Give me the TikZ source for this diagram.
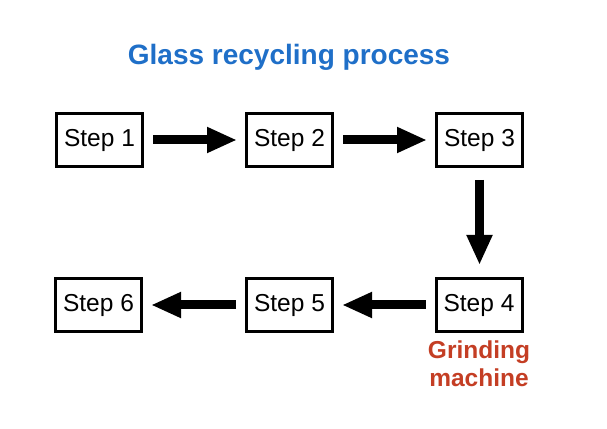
\documentclass[tikz,border=0pt]{standalone}
\usepackage{fontspec}
\setmainfont{Liberation Sans}
\usetikzlibrary{arrows.meta}
\definecolor{titleblue}{RGB}{31,111,200}
\definecolor{labelred}{RGB}{196,62,36}
\begin{document}
\begin{tikzpicture}[x=1pt,y=1pt,
  stepbox/.style={draw=black,line width=3pt,minimum width=86pt,minimum height=53pt,inner sep=0pt,font=\fontsize{24.5}{28}\selectfont},
  bigarrow/.style={line width=9pt,-{Triangle[length=30pt,width=24pt]},shorten <=9pt,shorten >=8pt}]
\useasboundingbox (0,0) rectangle (607,428);
\node[font=\bfseries\fontsize{28}{32}\selectfont,text=titleblue] (title) at (289,371) {Glass recycling process};
\node[stepbox] (s1) at (99.5,288) {Step 1};
\node[stepbox] (s2) at (289.5,288) {Step 2};
\node[stepbox] (s3) at (479.5,288) {Step 3};
\node[stepbox] (s4) at (479,123) {Step 4};
\node[stepbox] (s5) at (289.5,123) {Step 5};
\node[stepbox] (s6) at (98.5,123) {Step 6};
\node[font=\bfseries\fontsize{24.5}{28}\selectfont,text=labelred,align=center,anchor=north] (lab) at (479,91) {Grinding\\machine};
\draw[bigarrow] (s1) -- (s2);
\draw[bigarrow] (s2) -- (s3);
\draw[bigarrow,shorten <=12pt,shorten >=12pt] (s3.south) -- (s3.south |- s4.north);
\draw[bigarrow] (s4) -- (s5);
\draw[bigarrow] (s5) -- (s6);
\end{tikzpicture}
\end{document}
